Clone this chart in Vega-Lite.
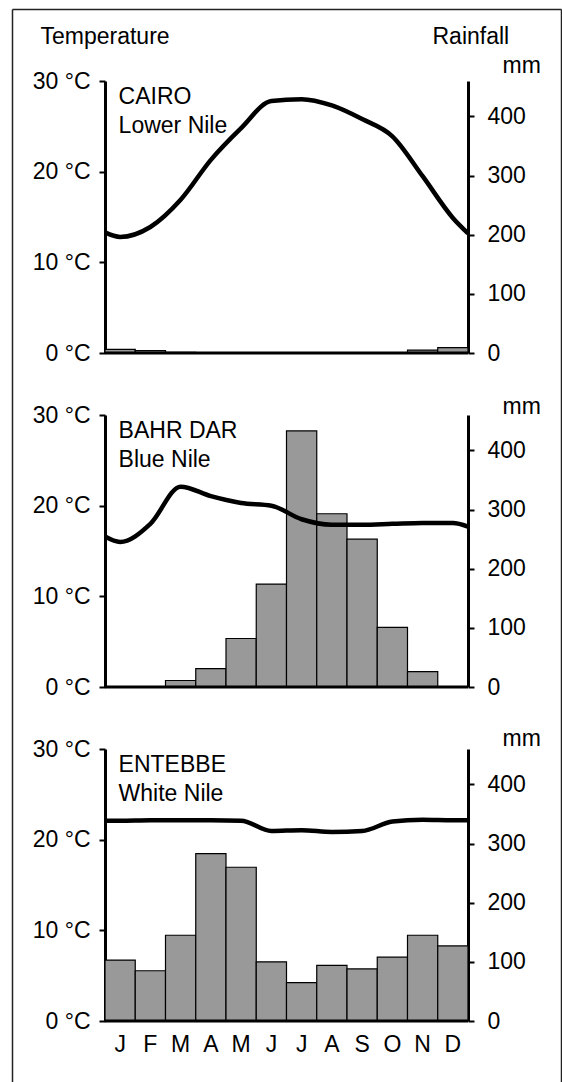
{
  "$schema": "https://vega.github.io/schema/vega-lite/v6.json",
  "width": 549,
  "height": 1073,
  "autosize": {"type": "none"},
  "padding": {"left": 12, "top": 9, "right": 1, "bottom": 0},
  "config": {
    "view": {"stroke": null},
    "font": "Liberation Sans",
    "axis": {
      "labelFont": "Liberation Sans", "titleFont": "Liberation Sans",
      "labelFontSize": 23, "titleFontSize": 23, "titleFontWeight": "normal",
      "labelColor": "black", "titleColor": "black", "domainColor": "black", "tickColor": "black",
      "domainWidth": 3, "tickWidth": 2, "grid": false
    }
  },
  "datasets": {
    "rain": [
      {"station": "Cairo", "month": "Jan", "rain": 6}, {"station": "Cairo", "month": "Feb", "rain": 4}, {"station": "Cairo", "month": "Mar", "rain": 1},
      {"station": "Cairo", "month": "Apr", "rain": 0}, {"station": "Cairo", "month": "May", "rain": 0}, {"station": "Cairo", "month": "Jun", "rain": 0},
      {"station": "Cairo", "month": "Jul", "rain": 0}, {"station": "Cairo", "month": "Aug", "rain": 0}, {"station": "Cairo", "month": "Sep", "rain": 0},
      {"station": "Cairo", "month": "Oct", "rain": 0}, {"station": "Cairo", "month": "Nov", "rain": 5}, {"station": "Cairo", "month": "Dec", "rain": 9},
      {"station": "Bahr Dar", "month": "Jan", "rain": 0}, {"station": "Bahr Dar", "month": "Feb", "rain": 0}, {"station": "Bahr Dar", "month": "Mar", "rain": 11},
      {"station": "Bahr Dar", "month": "Apr", "rain": 31}, {"station": "Bahr Dar", "month": "May", "rain": 82}, {"station": "Bahr Dar", "month": "Jun", "rain": 174},
      {"station": "Bahr Dar", "month": "Jul", "rain": 433}, {"station": "Bahr Dar", "month": "Aug", "rain": 293}, {"station": "Bahr Dar", "month": "Sep", "rain": 250},
      {"station": "Bahr Dar", "month": "Oct", "rain": 101}, {"station": "Bahr Dar", "month": "Nov", "rain": 26}, {"station": "Bahr Dar", "month": "Dec", "rain": 0},
      {"station": "Entebbe", "month": "Jan", "rain": 103}, {"station": "Entebbe", "month": "Feb", "rain": 85}, {"station": "Entebbe", "month": "Mar", "rain": 145},
      {"station": "Entebbe", "month": "Apr", "rain": 283}, {"station": "Entebbe", "month": "May", "rain": 260}, {"station": "Entebbe", "month": "Jun", "rain": 100},
      {"station": "Entebbe", "month": "Jul", "rain": 65}, {"station": "Entebbe", "month": "Aug", "rain": 94}, {"station": "Entebbe", "month": "Sep", "rain": 88},
      {"station": "Entebbe", "month": "Oct", "rain": 108}, {"station": "Entebbe", "month": "Nov", "rain": 145}, {"station": "Entebbe", "month": "Dec", "rain": 127}
    ],
    "temp": [
      {"station": "Cairo", "t": 0, "temp": 13.3}, {"station": "Cairo", "t": 0.5, "temp": 12.8}, {"station": "Cairo", "t": 1.5, "temp": 13.9},
      {"station": "Cairo", "t": 2.5, "temp": 16.9}, {"station": "Cairo", "t": 3.5, "temp": 21.3}, {"station": "Cairo", "t": 4.5, "temp": 24.8},
      {"station": "Cairo", "t": 5.5, "temp": 27.8}, {"station": "Cairo", "t": 6.5, "temp": 28.0}, {"station": "Cairo", "t": 7.5, "temp": 27.3},
      {"station": "Cairo", "t": 8.5, "temp": 25.8}, {"station": "Cairo", "t": 9.5, "temp": 23.9}, {"station": "Cairo", "t": 10.5, "temp": 19.5},
      {"station": "Cairo", "t": 11.5, "temp": 14.9}, {"station": "Cairo", "t": 12, "temp": 13.2},
      {"station": "Bahr Dar", "t": 0, "temp": 16.6}, {"station": "Bahr Dar", "t": 0.5, "temp": 16.0}, {"station": "Bahr Dar", "t": 1.5, "temp": 18.0},
      {"station": "Bahr Dar", "t": 2.5, "temp": 22.1}, {"station": "Bahr Dar", "t": 3.5, "temp": 21.05}, {"station": "Bahr Dar", "t": 4.5, "temp": 20.3},
      {"station": "Bahr Dar", "t": 5.5, "temp": 20.0}, {"station": "Bahr Dar", "t": 6.5, "temp": 18.5}, {"station": "Bahr Dar", "t": 7.5, "temp": 17.9},
      {"station": "Bahr Dar", "t": 8.5, "temp": 17.9}, {"station": "Bahr Dar", "t": 9.5, "temp": 18.0}, {"station": "Bahr Dar", "t": 10.5, "temp": 18.1},
      {"station": "Bahr Dar", "t": 11.5, "temp": 18.1}, {"station": "Bahr Dar", "t": 12, "temp": 17.7},
      {"station": "Entebbe", "t": 0, "temp": 22.1}, {"station": "Entebbe", "t": 0.5, "temp": 22.1}, {"station": "Entebbe", "t": 1.5, "temp": 22.15},
      {"station": "Entebbe", "t": 2.5, "temp": 22.15}, {"station": "Entebbe", "t": 3.5, "temp": 22.15}, {"station": "Entebbe", "t": 4.5, "temp": 22.1},
      {"station": "Entebbe", "t": 5.5, "temp": 20.95}, {"station": "Entebbe", "t": 6.5, "temp": 21.05}, {"station": "Entebbe", "t": 7.5, "temp": 20.85},
      {"station": "Entebbe", "t": 8.5, "temp": 20.95}, {"station": "Entebbe", "t": 9.5, "temp": 22.0}, {"station": "Entebbe", "t": 10.5, "temp": 22.2},
      {"station": "Entebbe", "t": 11.5, "temp": 22.15}, {"station": "Entebbe", "t": 12, "temp": 22.15}
    ],
    "labels": [
      {"station": "Cairo", "label": "CAIRO\nLower Nile"},
      {"station": "Bahr Dar", "label": "BAHR DAR\nBlue Nile"},
      {"station": "Entebbe", "label": "ENTEBBE\nWhite Nile"}
    ]
  },
  "layer": [
    {
      "data": {"name": "labels"},
      "transform": [{"filter": "datum.station === 'Cairo'"}],
      "mark": {"type": "point", "opacity": 0},
      "encoding": {
        "x": {"datum": 0, "type": "quantitative", "scale": {"domain": [0, 1], "range": [0, 549], "nice": false},
              "axis": {"orient": "top", "offset": 0, "domain": true, "domainWidth": 1.5, "domainColor": "#222222", "ticks": false, "labels": false, "title": null}},
        "y": {"datum": 0, "type": "quantitative", "scale": {"domain": [0, 1], "range": [1120, 0], "nice": false},
              "axis": {"orient": "left", "offset": 0, "domain": true, "domainWidth": 1.5, "domainColor": "#222222", "ticks": false, "labels": false, "title": null}}
      }
    },
    {
      "data": {"name": "labels"},
      "transform": [{"filter": "datum.station === 'Cairo'"}],
      "mark": {"type": "point", "opacity": 0},
      "encoding": {
        "x": {"datum": 0, "type": "quantitative", "scale": {"domain": [0, 1], "range": [0, 549], "nice": false}, "axis": null},
        "y": {"datum": 0, "type": "quantitative", "scale": {"domain": [0, 1], "range": [1120, 0], "nice": false},
              "axis": {"orient": "right", "offset": 0, "domain": true, "domainWidth": 1.5, "domainColor": "#222222", "ticks": false, "labels": false, "title": null}}
      }
    },
    {
      "data": {"name": "rain"},
      "transform": [{"filter": "datum.station === 'Cairo'"}],
      "mark": {"type": "bar", "fill": "#999999", "stroke": "black", "strokeWidth": 1.2},
      "encoding": {
        "x": {"field": "month", "type": "ordinal", "scale": {"domain": ["Jan","Feb","Mar","Apr","May","Jun","Jul","Aug","Sep","Oct","Nov","Dec"], "range": [93, 456], "paddingInner": 0, "paddingOuter": 0}, "axis": null},
        "y": {"field": "rain", "type": "quantitative", "stack": null, "scale": {"domain": [0, 460], "range": [344, 72], "nice": false},
              "axis": {"orient": "right", "offset": -93, "values": [0,100,200,300,400], "tickSize": 6, "labelPadding": 13, "title": "mm", "titleAngle": 0, "titleAlign": "left", "titleBaseline": "alphabetic", "titleX": 34, "titleY": 63}}
      }
    },
    {
      "data": {"name": "labels"},
      "transform": [{"filter": "datum.station === 'Cairo'"}],
      "mark": {"type": "rule", "strokeWidth": 3, "color": "black"},
      "encoding": {
        "x": {"datum": 0, "type": "quantitative", "scale": {"domain": [0, 12], "range": [93, 456], "nice": false}, "axis": null},
        "x2": {"datum": 12},
        "y": {"datum": 0, "type": "quantitative", "scale": {"domain": [0, 30], "range": [344, 72], "nice": false}, "axis": null}
      }
    },
    {
      "data": {"name": "temp"},
      "transform": [{"filter": "datum.station === 'Cairo'"}],
      "mark": {"type": "line", "interpolate": "monotone", "stroke": "black", "strokeWidth": 4.5},
      "encoding": {
        "x": {"field": "t", "type": "quantitative", "scale": {"domain": [0, 12], "range": [93, 456], "nice": false}, "axis": null},
        "y": {"field": "temp", "type": "quantitative", "scale": {"domain": [0, 30], "range": [344, 72], "nice": false},
              "axis": {"orient": "left", "offset": -93, "values": [0,10,20,30], "labelExpr": "datum.value + ' °C'", "tickSize": 6, "labelPadding": 9, "title": "Temperature", "titleAngle": 0, "titleAlign": "left", "titleBaseline": "alphabetic", "titleX": -65, "titleY": 34}}
      }
    },
    {
      "data": {"name": "labels"},
      "transform": [{"filter": "datum.station === 'Cairo'"}],
      "mark": {"type": "text", "align": "left", "baseline": "alphabetic", "fontSize": 23, "lineBreak": "\n", "lineHeight": 29, "font": "Liberation Sans", "color": "black"},
      "encoding": {
        "text": {"field": "label"},
        "x": {"datum": 0.45, "type": "quantitative", "scale": {"domain": [0, 12], "range": [93, 456], "nice": false}, "axis": null},
        "y": {"datum": 27.5, "type": "quantitative", "scale": {"domain": [0, 30], "range": [344, 72], "nice": false},
              "axis": {"orient": "right", "offset": -93, "domain": false, "ticks": false, "labels": false, "title": "Rainfall", "titleAngle": 0, "titleAlign": "left", "titleBaseline": "alphabetic", "titleX": -36, "titleY": 34}}
      }
    },
    {
      "data": {"name": "rain"},
      "transform": [{"filter": "datum.station === 'Bahr Dar'"}],
      "mark": {"type": "bar", "fill": "#999999", "stroke": "black", "strokeWidth": 1.2},
      "encoding": {
        "x": {"field": "month", "type": "ordinal", "scale": {"domain": ["Jan","Feb","Mar","Apr","May","Jun","Jul","Aug","Sep","Oct","Nov","Dec"], "range": [93, 456], "paddingInner": 0, "paddingOuter": 0}, "axis": null},
        "y": {"field": "rain", "type": "quantitative", "stack": null, "scale": {"domain": [0, 460], "range": [678, 406], "nice": false},
              "axis": {"orient": "right", "offset": -93, "values": [0,100,200,300,400], "tickSize": 6, "labelPadding": 13, "title": "mm", "titleAngle": 0, "titleAlign": "left", "titleBaseline": "alphabetic", "titleX": 34, "titleY": 404}}
      }
    },
    {
      "data": {"name": "labels"},
      "transform": [{"filter": "datum.station === 'Bahr Dar'"}],
      "mark": {"type": "rule", "strokeWidth": 3, "color": "black"},
      "encoding": {
        "x": {"datum": 0, "type": "quantitative", "scale": {"domain": [0, 12], "range": [93, 456], "nice": false}, "axis": null},
        "x2": {"datum": 12},
        "y": {"datum": 0, "type": "quantitative", "scale": {"domain": [0, 30], "range": [678, 406], "nice": false}, "axis": null}
      }
    },
    {
      "data": {"name": "temp"},
      "transform": [{"filter": "datum.station === 'Bahr Dar'"}],
      "mark": {"type": "line", "interpolate": "monotone", "stroke": "black", "strokeWidth": 4.5},
      "encoding": {
        "x": {"field": "t", "type": "quantitative", "scale": {"domain": [0, 12], "range": [93, 456], "nice": false}, "axis": null},
        "y": {"field": "temp", "type": "quantitative", "scale": {"domain": [0, 30], "range": [678, 406], "nice": false},
              "axis": {"orient": "left", "offset": -93, "values": [0,10,20,30], "labelExpr": "datum.value + ' °C'", "tickSize": 6, "labelPadding": 9, "title": null}}
      }
    },
    {
      "data": {"name": "labels"},
      "transform": [{"filter": "datum.station === 'Bahr Dar'"}],
      "mark": {"type": "text", "align": "left", "baseline": "alphabetic", "fontSize": 23, "lineBreak": "\n", "lineHeight": 29, "font": "Liberation Sans", "color": "black"},
      "encoding": {
        "text": {"field": "label"},
        "x": {"datum": 0.45, "type": "quantitative", "scale": {"domain": [0, 12], "range": [93, 456], "nice": false}, "axis": null},
        "y": {"datum": 27.5, "type": "quantitative", "scale": {"domain": [0, 30], "range": [678, 406], "nice": false}, "axis": null}
      }
    },
    {
      "data": {"name": "rain"},
      "transform": [{"filter": "datum.station === 'Entebbe'"}],
      "mark": {"type": "bar", "fill": "#999999", "stroke": "black", "strokeWidth": 1.2},
      "encoding": {
        "x": {"field": "month", "type": "ordinal", "scale": {"domain": ["Jan","Feb","Mar","Apr","May","Jun","Jul","Aug","Sep","Oct","Nov","Dec"], "range": [93, 456], "paddingInner": 0, "paddingOuter": 0},
              "axis": {"orient": "bottom", "offset": -61, "domain": false, "ticks": false, "tickSize": 0, "labelPadding": 12, "labelAngle": 0, "labelExpr": "substring(datum.label, 0, 1)", "title": null}},
        "y": {"field": "rain", "type": "quantitative", "stack": null, "scale": {"domain": [0, 460], "range": [1012, 740], "nice": false},
              "axis": {"orient": "right", "offset": -93, "values": [0,100,200,300,400], "tickSize": 6, "labelPadding": 13, "title": "mm", "titleAngle": 0, "titleAlign": "left", "titleBaseline": "alphabetic", "titleX": 34, "titleY": 736}}
      }
    },
    {
      "data": {"name": "labels"},
      "transform": [{"filter": "datum.station === 'Entebbe'"}],
      "mark": {"type": "rule", "strokeWidth": 3, "color": "black"},
      "encoding": {
        "x": {"datum": 0, "type": "quantitative", "scale": {"domain": [0, 12], "range": [93, 456], "nice": false}, "axis": null},
        "x2": {"datum": 12},
        "y": {"datum": 0, "type": "quantitative", "scale": {"domain": [0, 30], "range": [1012, 740], "nice": false}, "axis": null}
      }
    },
    {
      "data": {"name": "temp"},
      "transform": [{"filter": "datum.station === 'Entebbe'"}],
      "mark": {"type": "line", "interpolate": "monotone", "stroke": "black", "strokeWidth": 4.5},
      "encoding": {
        "x": {"field": "t", "type": "quantitative", "scale": {"domain": [0, 12], "range": [93, 456], "nice": false}, "axis": null},
        "y": {"field": "temp", "type": "quantitative", "scale": {"domain": [0, 30], "range": [1012, 740], "nice": false},
              "axis": {"orient": "left", "offset": -93, "values": [0,10,20,30], "labelExpr": "datum.value + ' °C'", "tickSize": 6, "labelPadding": 9, "title": null}}
      }
    },
    {
      "data": {"name": "labels"},
      "transform": [{"filter": "datum.station === 'Entebbe'"}],
      "mark": {"type": "text", "align": "left", "baseline": "alphabetic", "fontSize": 23, "lineBreak": "\n", "lineHeight": 29, "font": "Liberation Sans", "color": "black"},
      "encoding": {
        "text": {"field": "label"},
        "x": {"datum": 0.45, "type": "quantitative", "scale": {"domain": [0, 12], "range": [93, 456], "nice": false}, "axis": null},
        "y": {"datum": 27.5, "type": "quantitative", "scale": {"domain": [0, 30], "range": [1012, 740], "nice": false}, "axis": null}
      }
    }
  ],
  "resolve": {"scale": {"x": "independent", "y": "independent"}, "axis": {"x": "independent", "y": "independent"}}
}
